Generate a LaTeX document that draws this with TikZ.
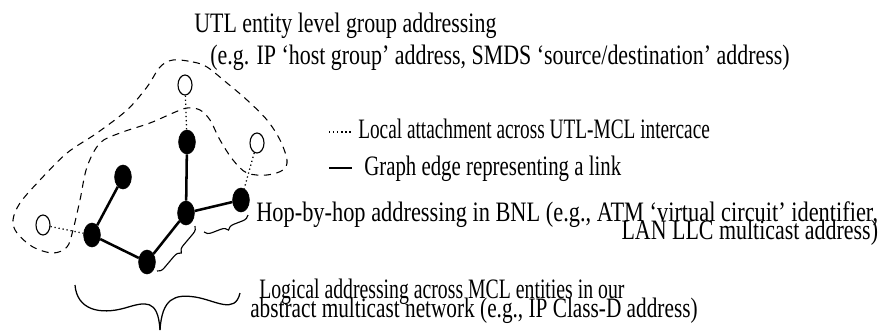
\documentclass[tikz,border=0pt]{standalone}
\usepackage{fontspec}
\setmainfont{Liberation Serif}[FakeStretch=0.78]
\usetikzlibrary{shapes.geometric,positioning,decorations.pathreplacing}

\begin{document}
\begin{tikzpicture}[x=0.025cm, y=-0.025cm,
    mcl/.style={ellipse, fill=black, draw=black, minimum width=0.42cm, minimum height=0.6cm, inner sep=0pt},
    utl/.style={ellipse, draw=black, line width=0.8pt, fill=white, minimum width=0.35cm, minimum height=0.5cm, inner sep=0pt},
    link/.style={line width=1.8pt},
    attach/.style={dotted, line width=0.9pt},
    group/.style={dash pattern=on 5pt off 4pt, line width=0.75pt},
    hopbrace/.style={decorate, decoration={brace, mirror, amplitude=5pt}, line width=0.8pt},
    lbl/.style={anchor=base west, inner sep=0pt, font=\fontsize{20}{20}\selectfont}]
  \useasboundingbox (0,0) rectangle (879,335);

  % dashed boundary of the UTL group
  \draw[group] plot[smooth cycle, tension=0.55] coordinates {
    (173,60) (193,62) (207,67) (227,83) (247,100) (267,120) (280,140)
    (287,160) (283,170) (267,175) (247,173) (233,160) (220,140) (210,120)
    (200,110) (187,108) (173,113) (150,123) (120,133) (100,143) (87,167)
    (80,200) (73,230) (67,247) (53,253) (33,247) (17,233) (13,220)
    (20,203) (40,180) (67,153) (97,133) (127,110) (147,87) (160,67)};

  % UTL entities
  \node[utl] (utltop) at (185,85) {};
  \node[utl] (utlright) at (257,143) {};
  \node[utl] (utlleft) at (43,225) {};

  % MCL entities
  \node[mcl] (mcltop) at (187,142) {};
  \node[mcl] (mclupleft) at (123,177) {};
  \node[mcl] (mclmid) at (186,213) {};
  \node[mcl] (mclright) at (241,200) {};
  \node[mcl] (mclleft) at (92,235) {};
  \node[mcl] (mclbottom) at (147,262) {};

  \draw[link] (mclupleft) -- (mclleft);
  \draw[link] (mclleft) -- (mclbottom);
  \draw[link] (mclbottom) -- (mclmid);
  \draw[link] (mclmid) -- (mcltop);
  \draw[link] (mclmid) -- (mclright);

  \draw[attach] (utltop) -- (mcltop);
  \draw[attach] (utlright) -- (mclright);
  \draw[attach] (utlleft) -- (mclleft);

  % braces
  \draw[hopbrace] (157,271) -- (195,226);
  \draw[hopbrace] (204,232) -- (248,215);
  \draw[line width=0.9pt] (75,285) .. controls (77,310) and (100,315) .. (125,308)
    .. controls (145,302) and (158,298) .. (160,330);
  \draw[line width=0.9pt] (160,330) .. controls (162,298) and (175,294) .. (195,297)
    .. controls (215,300) and (235,315) .. (240,293);

  % labels
  \node[lbl] (utltitle) at (194,32) {UTL entity level group addressing};
  \node[lbl] (utlexample) at (210,64) {(e.g. IP ‘host group’ address, SMDS ‘source/destination’ address)};

  \coordinate (dotkey) at (329,132);
  \coordinate (linekey) at (329,168);
  \draw[attach] (dotkey) -- ++(22,0);
  \draw[link] (linekey) -- ++(23,0);
  \node[lbl, xscale=0.88] (localkey) at (358,138) {Local attachment across UTL-MCL intercace};
  \node[lbl, xscale=0.95] (edgekey) at (364,175) {Graph edge representing a link};

  \node[lbl, xscale=1.02] (hopline) at (256,221) {Hop-by-hop addressing in BNL (e.g., ATM ‘virtual circuit’ identifier,};
  \node[lbl, anchor=base east, yshift=-0.45cm] (hopcont) at (hopline.base east) {LAN LLC multicast address)};

  \node[lbl, xscale=0.9] (logicline) at (259,298) {Logical addressing across MCL entities in our};
  \node[lbl, xscale=0.97] (logiccont) at (250,317) {abstract multicast network (e.g., IP Class-D address)};
\end{tikzpicture}
\end{document}
